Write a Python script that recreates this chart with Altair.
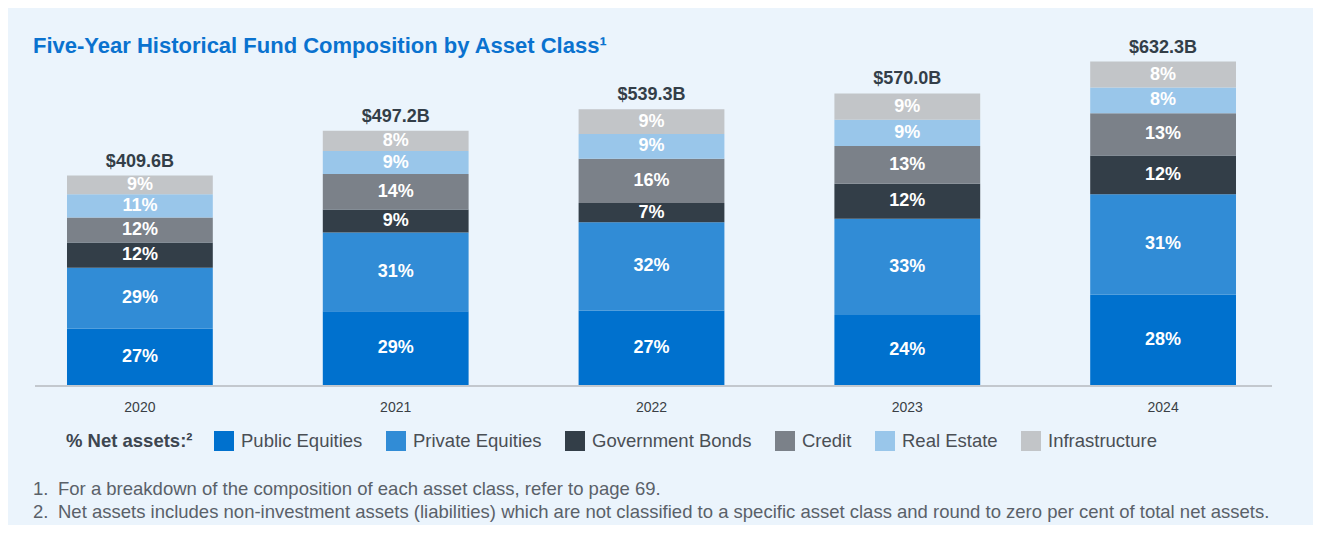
import altair as alt
import pandas as pd

years = ["2020", "2021", "2022", "2023", "2024"]
totals = [409.6, 497.2, 539.3, 570.0, 632.3]
total_labels = ["$409.6B", "$497.2B", "$539.3B", "$570.0B", "$632.3B"]
categories = ["Public Equities", "Private Equities", "Government Bonds", "Credit", "Real Estate", "Infrastructure"]
colors = ["#0071CE", "#318CD6", "#333E48", "#7B8189", "#99C6EA", "#C2C5C8"]
public_equities = [27, 29, 27, 24, 28]
private_equities = [29, 31, 32, 33, 31]
government_bonds = [12, 9, 7, 12, 12]
credit = [12, 14, 16, 13, 13]
real_estate = [11, 9, 9, 9, 8]
infrastructure = [9, 8, 9, 9, 8]
title_text = "Five-Year Historical Fund Composition by Asset Class¹"
legend_title = "% Net assets:²"
footnote_nums = ["1.", "2."]
footnotes = [
    "For a breakdown of the composition of each asset class, refer to page 69.",
    "Net assets includes non-investment assets (liabilities) which are not classified to a specific asset class and round to zero per cent of total net assets.",
]

series = [public_equities, private_equities, government_bonds, credit, real_estate, infrastructure]
rows = []
for ci, (cat, vals) in enumerate(zip(categories, series)):
    for yi, yr in enumerate(years):
        rows.append({"year": yr, "category": cat, "order": ci, "pct": vals[yi], "total": totals[yi]})
df = pd.DataFrame(rows)
tot_df = pd.DataFrame({"year": years, "total": totals, "label": total_labels})

FONT = "Liberation Sans"
BG = "#EBF4FC"

x_enc = alt.X("year:N", sort=years, title=None,
              scale=alt.Scale(paddingInner=0.43, paddingOuter=0.215),
              axis=alt.Axis(domain=False, ticks=False, tickSize=0, labelAngle=0,
                            labelFontSize=14, labelColor="#3A3F45", labelFont=FONT,
                            labelBaseline="middle", labelPadding=22, grid=False))
y_scale = alt.Scale(domain=[0, 700], nice=False)

base = alt.Chart(df).transform_calculate(
    value="datum.total * datum.pct / 100",
    pct_label="datum.pct + '%'",
).transform_stack(
    stack="value", groupby=["year"], as_=["y0", "y1"], sort=[alt.SortField("order", order="ascending")]
).transform_calculate(mid="(datum.y0 + datum.y1) / 2")

bars = base.mark_bar(strokeWidth=0).encode(
    x=x_enc,
    y=alt.Y("y0:Q", scale=y_scale, axis=None),
    y2="y1:Q",
    color=alt.Color("category:N", sort=categories,
                    scale=alt.Scale(domain=categories, range=colors),
                    legend=alt.Legend(title=legend_title, orient="none", direction="horizontal",
                                      columns=6, legendX=54, legendY=404,
                                      titleOrient="left", titleFontSize=18.5, titleFont=FONT,
                                      titleFontWeight="bold", titleColor="#3D4650",
                                      titlePadding=21, titleBaseline="middle", titleAnchor="middle",
                                      symbolType="square", symbolSize=400, symbolStrokeWidth=0,
                                      symbolOpacity=1, labelFontSize=18.5, labelFont=FONT,
                                      labelColor="#4A4F55", labelOffset=7, columnPadding=23,
                                      labelLimit=400)),
    order=alt.Order("order:Q"),
)

pct_text = base.mark_text(font=FONT, fontSize=18, fontWeight="bold", color="white",
                          baseline="middle", align="center").encode(
    x=alt.X("year:N", sort=years),
    y=alt.Y("mid:Q", scale=y_scale),
    text="pct_label:N",
)

tot_text = alt.Chart(tot_df).mark_text(font=FONT, fontSize=18, fontWeight="bold", color="#333E48",
                                       baseline="bottom", align="center", dy=-5).encode(
    x=alt.X("year:N", sort=years),
    y=alt.Y("total:Q", scale=y_scale),
    text="label:N",
)

axis_line = alt.Chart(tot_df).mark_rule(color="#C3C8CE", strokeWidth=2).encode(
    x=alt.value(23), x2=alt.value(1260), y=alt.value(359),
)

title = alt.Chart(pd.DataFrame({"t": [title_text]})).mark_text(
    font=FONT, fontSize=22, fontWeight="bold", color="#0A72CF", align="left", baseline="middle"
).encode(x=alt.value(21), y=alt.value(19), text="t:N")

fn_layers = []
for i, (num, txt) in enumerate(zip(footnote_nums, footnotes)):
    d = pd.DataFrame({"num": [num], "txt": [txt]})
    yv = 462 + 23 * i
    fn_layers.append(alt.Chart(d).mark_text(font=FONT, fontSize=18.5, color="#5A6169", align="left",
                                            baseline="middle").encode(
        x=alt.value(21), y=alt.value(yv), text="num:N"))
    fn_layers.append(alt.Chart(d).mark_text(font=FONT, fontSize=18.5, color="#5A6169", align="left",
                                            baseline="middle").encode(
        x=alt.value(46), y=alt.value(yv), text="txt:N"))

chart = alt.layer(axis_line, bars, pct_text, tot_text, title, *fn_layers).properties(
    width=1279, height=358,
    padding={"left": 4, "top": 19, "right": 22, "bottom": 140},
    autosize=alt.AutoSizeParams(type="none"),
    background=BG,
).configure_view(stroke=None).configure_axis(labelFont=FONT)

chart.save("out.html", embed_options={"renderer": "svg", "actions": False})
